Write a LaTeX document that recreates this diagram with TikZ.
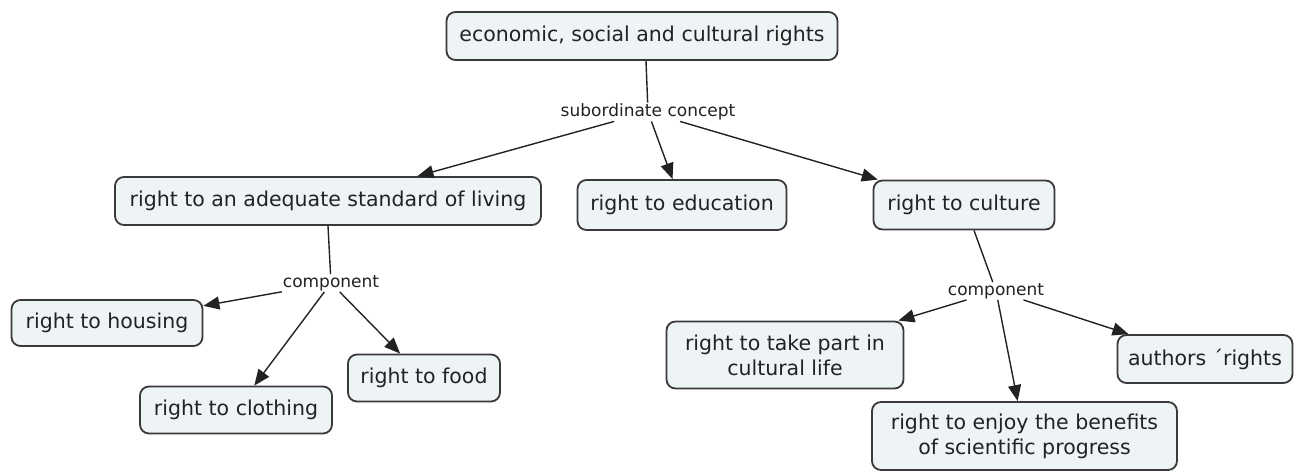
\documentclass[tikz,border=0pt]{standalone}
\usepackage{fontspec}
\setmainfont{DejaVu Sans}
\usetikzlibrary{arrows.meta}
\definecolor{boxfill}{HTML}{EEF3F6}
\definecolor{boxline}{HTML}{3A3A3A}
\definecolor{ink}{HTML}{222222}
\tikzset{
  concept/.style={draw=boxline, line width=1.8pt, fill=boxfill, rounded corners=9pt,
    text=ink, font=\fontsize{20.5}{25}\selectfont, align=center, inner sep=2pt},
  linkword/.style={text=ink, font=\fontsize{17}{20}\selectfont, inner sep=1pt, fill=white},
  link/.style={draw=ink, line width=1.4pt},
  arrowlink/.style={link, -{Triangle[length=16pt,width=13pt]}},
}
\begin{document}
\begin{tikzpicture}[x=1pt,y=-1pt]
\useasboundingbox (0,0) rectangle (1304,472);

% concepts
\node[concept, minimum width=391pt, minimum height=48pt] (root) at (642,36) {economic, social and cultural rights};
\node[concept, minimum width=426pt, minimum height=48pt] (std) at (328,201) {right to an adequate standard of living};
\node[concept, minimum width=209pt, minimum height=50pt] (edu) at (682,205) {right to education};
\node[concept, minimum width=181pt, minimum height=49pt] (cul) at (964,205) {right to culture};
\node[concept, minimum width=191pt, minimum height=46pt] (hous) at (107,323) {right to housing};
\node[concept, minimum width=192pt, minimum height=47pt] (cloth) at (236,410) {right to clothing};
\node[concept, minimum width=152pt, minimum height=47pt] (food) at (424,378) {right to food};
\node[concept, minimum width=237pt, minimum height=67pt] (part) at (785,355) {right to take part in\\cultural life};
\node[concept, minimum width=175pt, minimum height=48pt] (auth) at (1205,359) {authors ´rights};
\node[concept, minimum width=305pt, minimum height=68pt] (sci) at (1024.5,436) {right to enjoy the benefits\\of scientific progress};

% linking phrases
\node[linkword] (sub) at (648,112) {subordinate concept};
\node[linkword] (compL) at (331,283) {component};
\node[linkword] (compR) at (996,291) {component};

% connectors
\draw[link] ([xshift=4pt]root.south) -- (sub);
\draw[arrowlink] (sub) -- (std);
\draw[arrowlink] (sub) -- (edu);
\draw[arrowlink] (sub) -- (cul);

\draw[link] (std.south) -- (compL);
\draw[arrowlink] (compL) -- (hous);
\draw[arrowlink] (compL) -- (cloth);
\draw[arrowlink] (compL) -- (food);

\draw[link] ([xshift=10pt]cul.south) -- (compR);
\draw[arrowlink] (compR) -- (part);
\draw[arrowlink] (compR) -- (sci);
\draw[arrowlink] (compR) -- (auth);
\end{tikzpicture}
\end{document}
